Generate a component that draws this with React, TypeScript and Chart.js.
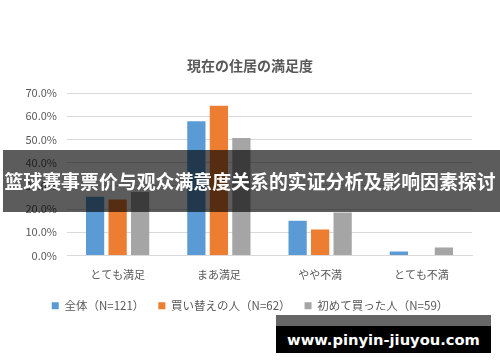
import React, { useEffect, useRef } from 'react';
import { Chart, registerables } from 'chart.js';

Chart.register(...registerables);

const chartTitle = '現在の住居の満足度';
const categories = ['とても満足', 'まあ満足', 'やや不満', 'とても不満'];
const seriesNames = ['全体（N=121）', '買い替えの人（N=62）', '初めて買った人（N=59）'];
const allValues = [25.3, 57.8, 15.0, 1.7];
const replaceValues = [24.1, 64.5, 11.2, 0];
const firstValues = [27.4, 50.6, 18.5, 3.4];
const seriesColors = ['#5B9BD5', '#ED7D31', '#A5A5A5'];
const yMax = 70;
const yStep = 10;
const bannerText = '篮球赛事票价与观众满意度关系的实证分析及影响因素探讨';
const watermarkText = 'www.pinyin-jiuyou.com';

const FONT = "'Noto Sans CJK JP', 'Noto Sans CJK SC', sans-serif";
const TEXT = '#595959';

export default function App() {
  const ref = useRef<HTMLCanvasElement | null>(null);

  useEffect(() => {
    if (!ref.current) return;
    const chart = new Chart(ref.current, {
      type: 'bar',
      data: {
        labels: categories,
        datasets: [allValues, replaceValues, firstValues].map((d, i) => ({
          label: seriesNames[i],
          data: d,
          backgroundColor: seriesColors[i],
          borderWidth: 0,
          categoryPercentage: 0.667,
          barPercentage: 0.81,
          yAxisID: 'y',
        })),
      },
      options: {
        animation: false,
        responsive: false,
        layout: { padding: { left: 0, right: 0, top: 0, bottom: 40.5 } },
        plugins: {
          title: {
            display: true,
            text: chartTitle,
            color: TEXT,
            font: { size: 14, weight: 'bold', family: FONT },
            padding: { top: 57.6, bottom: 18.6 },
          },
          legend: {
            position: 'bottom',
            labels: {
              boxWidth: 7,
              boxHeight: 7,
              color: TEXT,
              font: { size: 11.5, family: FONT },
              padding: 14,
            },
          },
          tooltip: { enabled: false },
        },
        scales: {
          x: {
            grid: { display: false, drawTicks: false },
            border: { display: true, color: '#d9d9d9' },
            ticks: { color: TEXT, font: { size: 11, family: FONT }, padding: 13 },
            afterFit: (s: any) => {
              s.height = 30.5;
            },
          },
          y: {
            min: 0,
            max: yMax,
            ticks: {
              stepSize: yStep,
              color: TEXT,
              font: { size: 11, family: FONT },
              padding: 10,
              callback: (v: any) => Number(v).toFixed(1) + '%',
            },
            grid: { color: '#d9d9d9', drawTicks: false },
            border: { display: false },
            afterFit: (s: any) => {
              s.width = 67;
            },
          },
          yr: {
            position: 'right',
            display: true,
            ticks: { display: false },
            grid: { display: false, drawTicks: false },
            border: { display: false },
            afterFit: (s: any) => {
              s.width = 28;
            },
          },
        },
      } as any,
    });
    return () => chart.destroy();
  }, []);

  return (
    <div style={{ position: 'fixed', left: 0, top: 0, width: 500, height: 362, background: '#fff', overflow: 'hidden' }}>
      <canvas ref={ref} width={500} height={362} style={{ position: 'absolute', left: 0, top: 0 }} />
      <div
        style={{
          position: 'absolute',
          left: 3,
          top: 150,
          width: 497,
          height: 62,
          background: 'rgba(0,0,0,0.64)',
        }}
      />
      <div
        style={{
          position: 'absolute',
          left: 0,
          top: 150,
          width: 500,
          height: 62,
          color: '#fff',
          fontFamily: "'Noto Sans CJK SC', sans-serif",
          fontWeight: 'bold',
          fontSize: 18.9,
          lineHeight: '62px',
          textAlign: 'center',
          whiteSpace: 'nowrap',
        }}
      >
        {bannerText}
      </div>
      <div style={{ position: 'absolute', left: 276, top: 315, width: 215, height: 11, background: '#666' }} />
      <div
        style={{
          position: 'absolute',
          left: 276,
          top: 326,
          width: 215,
          height: 27,
          background: '#000',
          color: '#fff',
          fontFamily: "'DejaVu Sans', sans-serif",
          fontWeight: 'bold',
          fontSize: 14.7,
          lineHeight: '27px',
          textAlign: 'center',
          whiteSpace: 'nowrap',
        }}
      >
        {watermarkText}
      </div>
    </div>
  );
}
